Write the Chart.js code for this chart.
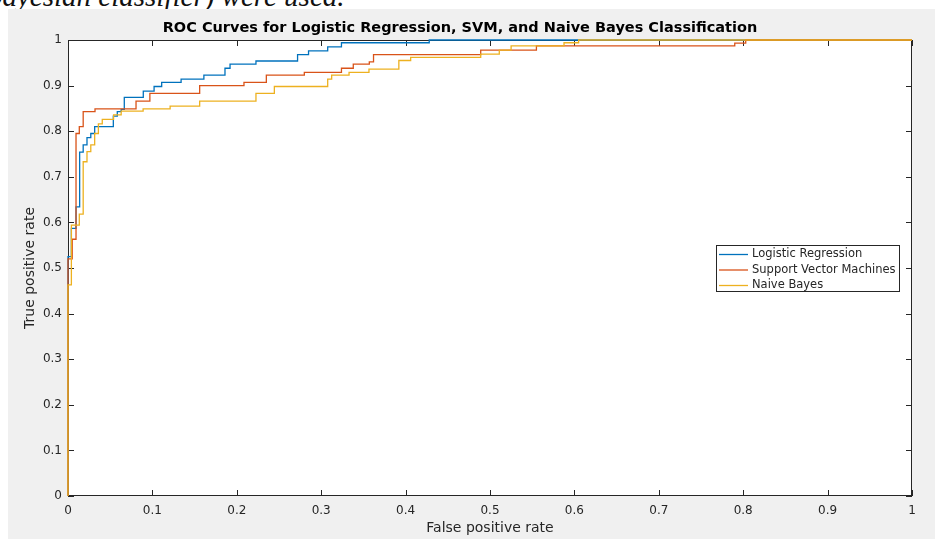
<!DOCTYPE html>
<html>
<head>
<meta charset="utf-8">
<title>ROC Curves</title>
<script src="https://cdn.jsdelivr.net/npm/chart.js@4.4.0/dist/chart.umd.min.js"></script>
<style>
  html, body { margin: 0; padding: 0; background: #fff; }
  body { width: 938px; height: 539px; position: relative; overflow: hidden; }
  #para { position: absolute; left: 0; top: 0; width: 938px; height: 9px; overflow: hidden; }
  #para span { position: absolute; left: -12px; top: -20px; line-height: 29px;
               font: italic 29px "Liberation Serif", serif; color: #111; white-space: nowrap; }
  #fig { position: absolute; left: 8px; top: 9px; width: 927px; height: 530px; background: #f0f0f0; }
</style>
</head>
<body>
<div id="para"><span>bayesian classifier) were used.</span></div>
<div id="fig"><canvas id="roc" width="927" height="530"></canvas></div>
<script>
const seriesNames = ['Logistic Regression', 'Support Vector Machines', 'Naive Bayes'];

// ROC steps: false positive rate where the curve rises, true positive rate after the rise
const lrFpr = [0, 0, 0.004, 0.0095, 0.0138, 0.018, 0.0225, 0.027, 0.0316, 0.0537, 0.0584, 0.063, 0.0667,
  0.0892, 0.102, 0.111, 0.134, 0.161, 0.186, 0.192, 0.2227, 0.272, 0.285, 0.3077, 0.324, 0.428, 1];
const lrTpr = [0, 0.525, 0.587, 0.634, 0.754, 0.77, 0.786, 0.795, 0.81, 0.833, 0.843, 0.848, 0.874,
  0.888, 0.898, 0.907, 0.914, 0.923, 0.938, 0.947, 0.954, 0.968, 0.976, 0.985, 0.994, 1, 1];

const svmFpr = [0, 0, 0.005, 0.0095, 0.0134, 0.018, 0.032, 0.0806, 0.097, 0.156, 0.2085, 0.235, 0.28,
  0.324, 0.338, 0.357, 0.362, 0.489, 0.555, 0.79, 0.803, 1];
const svmTpr = [0, 0.52, 0.563, 0.795, 0.81, 0.843, 0.849, 0.866, 0.883, 0.9, 0.907, 0.923, 0.929,
  0.938, 0.947, 0.952, 0.968, 0.978, 0.987, 0.993, 1, 1];

const nbFpr = [0, 0, 0.004, 0.0134, 0.018, 0.0225, 0.027, 0.0316, 0.036, 0.0406, 0.054, 0.063, 0.089,
  0.121, 0.156, 0.2227, 0.2445, 0.3077, 0.3124, 0.333, 0.3566, 0.392, 0.406, 0.489, 0.511, 0.525,
  0.5877, 0.605, 1];
const nbTpr = [0, 0.463, 0.594, 0.618, 0.733, 0.755, 0.77, 0.795, 0.816, 0.826, 0.836, 0.844, 0.849,
  0.855, 0.866, 0.883, 0.898, 0.914, 0.923, 0.929, 0.936, 0.955, 0.962, 0.969, 0.978, 0.987,
  0.994, 1, 1];

const xTicks = [0, 0.1, 0.2, 0.3, 0.4, 0.5, 0.6, 0.7, 0.8, 0.9, 1];
const xTickLabels = ['0', '0.1', '0.2', '0.3', '0.4', '0.5', '0.6', '0.7', '0.8', '0.9', '1'];
const yTicks = [0, 0.1, 0.2, 0.3, 0.4, 0.5, 0.6, 0.7, 0.8, 0.9, 1];
const yTickLabels = ['0', '0.1', '0.2', '0.3', '0.4', '0.5', '0.6', '0.7', '0.8', '0.9', '1'];

const colors = ['#0072BD', '#D95319', '#EDB120'];
const axisColor = '#262626';
const fontFamily = '"DejaVu Sans", sans-serif';

function toPoints(xs, ys) {
  return xs.map((x, i) => ({ x: x, y: ys[i] }));
}

// white plot box, dark frame and inward ticks on all four sides (matlab style)
const axesFrame = {
  id: 'axesFrame',
  beforeDraw(chart) {
    const { ctx, chartArea: a } = chart;
    ctx.save();
    ctx.fillStyle = '#fff';
    ctx.fillRect(a.left, a.top, a.right - a.left, a.bottom - a.top);
    ctx.restore();
  },
  beforeDatasetsDraw(chart) {
    const { ctx, chartArea: a, scales } = chart;
    const len = 6;
    ctx.save();
    ctx.strokeStyle = axisColor;
    ctx.lineWidth = 1;
    ctx.strokeRect(a.left + 0.5, a.top + 0.5, a.right - a.left - 1, a.bottom - a.top - 1);
    ctx.beginPath();
    scales.x.ticks.forEach(t => {
      const px = Math.round(scales.x.getPixelForValue(t.value)) + 0.5;
      ctx.moveTo(px, a.bottom); ctx.lineTo(px, a.bottom - len);
      ctx.moveTo(px, a.top); ctx.lineTo(px, a.top + len);
    });
    scales.y.ticks.forEach(t => {
      const py = Math.round(scales.y.getPixelForValue(t.value)) + 0.5;
      ctx.moveTo(a.left, py); ctx.lineTo(a.left + len, py);
      ctx.moveTo(a.right, py); ctx.lineTo(a.right - len, py);
    });
    ctx.stroke();
    ctx.restore();
  }
};

// legend box at the 'east' location inside the axes
const eastLegend = {
  id: 'eastLegend',
  afterDraw(chart) {
    const { ctx, chartArea: a } = chart;
    const w = 184, rowH = 15.5, h = 47;
    const right = a.right - 12;
    const left = right - w;
    const top = Math.round((a.top + a.bottom) / 2 - h / 2);
    ctx.save();
    ctx.fillStyle = '#fff';
    ctx.fillRect(left, top, w, h);
    ctx.strokeStyle = axisColor;
    ctx.lineWidth = 1;
    ctx.strokeRect(left + 0.5, top + 0.5, w - 1, h - 1);
    ctx.font = '11.5px ' + fontFamily;
    ctx.textBaseline = 'middle';
    ctx.textAlign = 'left';
    chart.data.datasets.forEach((ds, i) => {
      const y = top + 9.5 + i * rowH;
      ctx.strokeStyle = ds.borderColor;
      ctx.lineWidth = 1.3;
      ctx.beginPath();
      ctx.moveTo(left + 3, y);
      ctx.lineTo(left + 32, y);
      ctx.stroke();
      ctx.fillStyle = axisColor;
      ctx.fillText(ds.label, left + 36, y);
    });
    ctx.restore();
  }
};

const datasets = [
  { label: seriesNames[0], data: toPoints(lrFpr, lrTpr), borderColor: colors[0], order: 3 },
  { label: seriesNames[1], data: toPoints(svmFpr, svmTpr), borderColor: colors[1], order: 2 },
  { label: seriesNames[2], data: toPoints(nbFpr, nbTpr), borderColor: colors[2], order: 1 }
].map(d => Object.assign(d, {
  borderWidth: 1.3,
  pointRadius: 0,
  fill: false,
  stepped: true,
  tension: 0,
  clip: false
}));

new Chart(document.getElementById('roc'), {
  type: 'line',
  data: { datasets: datasets },
  plugins: [axesFrame, eastLegend],
  options: {
    responsive: false,
    animation: false,
    devicePixelRatio: 1,
    layout: { padding: { left: 0, right: 23, top: 0, bottom: 0 } },
    plugins: {
      legend: { display: false },
      tooltip: { enabled: false },
      title: {
        display: true,
        text: 'ROC Curves for Logistic Regression, SVM, and Naive Bayes Classification',
        color: '#000',
        font: { family: fontFamily, size: 14.5, weight: 'bold' },
        padding: { top: 10.3, bottom: 3.3 }
      }
    },
    scales: {
      x: {
        type: 'linear',
        min: 0,
        max: 1,
        afterBuildTicks: s => { s.ticks = xTicks.map(v => ({ value: v })); },
        afterFit: s => { s.height = 43; },
        grid: { display: false, drawTicks: false },
        border: { display: false },
        ticks: {
          padding: 7.3,
          color: axisColor,
          font: { family: fontFamily, size: 12 },
          maxRotation: 0,
          callback: v => xTickLabels[xTicks.indexOf(v)]
        },
        title: {
          display: true,
          text: 'False positive rate',
          color: axisColor,
          font: { family: fontFamily, size: 14 },
          padding: { top: 0, bottom: 2 }
        }
      },
      y: {
        type: 'linear',
        min: 0,
        max: 1,
        afterBuildTicks: s => { s.ticks = yTicks.map(v => ({ value: v })); },
        afterFit: s => { s.width = 60; },
        grid: { display: false, drawTicks: false },
        border: { display: false },
        ticks: {
          padding: 6,
          color: axisColor,
          font: { family: fontFamily, size: 12 },
          callback: v => yTickLabels[yTicks.indexOf(v)]
        },
        title: {
          display: true,
          text: 'True positive rate',
          color: axisColor,
          font: { family: fontFamily, size: 14 },
          padding: { top: 14.4, bottom: 0 }
        }
      }
    }
  }
});
</script>
</body>
</html>
